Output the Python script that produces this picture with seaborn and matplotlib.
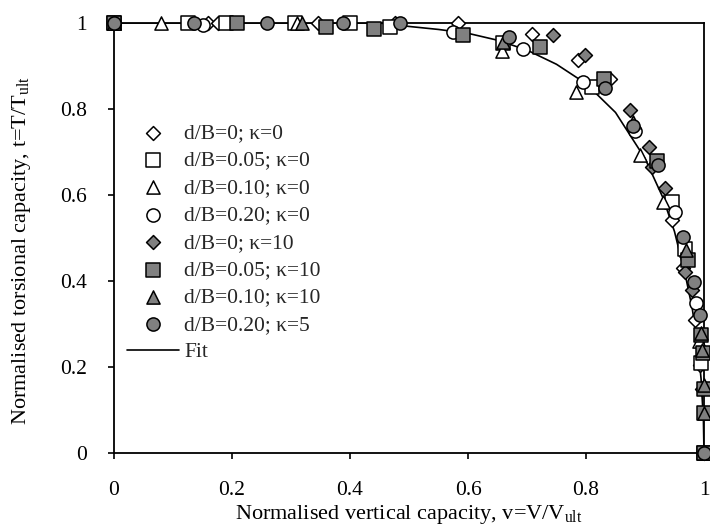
import numpy as np
import pandas as pd
import matplotlib
matplotlib.use("Agg")
import matplotlib.pyplot as plt
import seaborn as sns

# ---- data -------------------------------------------------------------
labels = [
    "d/B=0; κ=0", "d/B=0.05; κ=0", "d/B=0.10; κ=0", "d/B=0.20; κ=0",
    "d/B=0; κ=10", "d/B=0.05; κ=10", "d/B=0.10; κ=10", "d/B=0.20; κ=5",
]

v_db0_k0 = [0.0, 0.16, 0.177, 0.346, 0.476, 0.583, 0.709, 0.786, 0.84, 0.946, 0.965, 0.985, 0.993, 0.997, 1.0]
t_db0_k0 = [1.0, 1.0, 1.0, 1.0, 1.0, 1.0, 0.975, 0.914, 0.87, 0.542, 0.43, 0.31, 0.205, 0.15, 0.0]

v_db005_k0 = [0.0, 0.125, 0.19, 0.307, 0.40, 0.467, 0.66, 0.81, 0.946, 0.968, 0.995, 1.0]
t_db005_k0 = [1.0, 1.0, 1.0, 1.0, 1.0, 0.99, 0.953, 0.851, 0.584, 0.474, 0.21, 0.0]

v_db010_k0 = [0.0, 0.08, 0.31, 0.657, 0.783, 0.892, 0.93, 0.992, 1.0]
t_db010_k0 = [1.0, 1.0, 1.0, 0.935, 0.84, 0.693, 0.584, 0.26, 0.0]

v_db020_k0 = [0.0, 0.15, 0.575, 0.693, 0.795, 0.883, 0.951, 0.987, 1.0]
t_db020_k0 = [1.0, 0.995, 0.98, 0.94, 0.863, 0.75, 0.56, 0.35, 0.0]

v_db0_k10 = [0.0, 0.744, 0.798, 0.875, 0.907, 0.912, 0.934, 0.968, 0.98]
t_db0_k10 = [1.0, 0.972, 0.925, 0.798, 0.712, 0.665, 0.616, 0.421, 0.38]

v_db005_k10 = [0.0, 0.208, 0.36, 0.44, 0.592, 0.722, 0.83, 0.92, 0.973, 0.995, 0.998, 1.0, 1.0, 1.0]
t_db005_k10 = [1.0, 1.0, 0.99, 0.985, 0.972, 0.944, 0.87, 0.68, 0.449, 0.274, 0.232, 0.15, 0.093, 0.0]

v_db010_k10 = [0.0, 0.318, 0.66, 0.88, 0.97, 0.995, 0.997, 1.0, 1.0]
t_db010_k10 = [1.0, 1.0, 0.955, 0.77, 0.472, 0.28, 0.24, 0.158, 0.093]

v_db020_k5 = [0.0, 0.135, 0.26, 0.388, 0.485, 0.67, 0.832, 0.88, 0.922, 0.964, 0.983, 0.993, 1.0]
t_db020_k5 = [1.0, 1.0, 1.0, 1.0, 1.0, 0.967, 0.849, 0.76, 0.67, 0.502, 0.398, 0.32, 0.0]

v_fit = [0.0, 0.45, 0.5, 0.55, 0.6, 0.65, 0.7, 0.75, 0.8, 0.85, 0.9, 0.93, 0.95, 0.97, 0.98, 0.99, 0.995, 0.999, 1.0]
t_fit = [1.0, 1.0, 0.992, 0.985, 0.976, 0.96, 0.937, 0.904, 0.859, 0.792, 0.685, 0.595, 0.515, 0.403, 0.337, 0.243, 0.173, 0.077, 0.0]

ticks = [0, 0.2, 0.4, 0.6, 0.8, 1.0]
tick_labels = ["0", "0.2", "0.4", "0.6", "0.8", "1"]

series_v = [v_db0_k0, v_db005_k0, v_db010_k0, v_db020_k0,
            v_db0_k10, v_db005_k10, v_db010_k10, v_db020_k5]
series_t = [t_db0_k0, t_db005_k0, t_db010_k0, t_db020_k0,
            t_db0_k10, t_db005_k10, t_db010_k10, t_db020_k5]

# ---- styling ----------------------------------------------------------
markers = ["D", "s", "^", "o", "D", "s", "^", "o"]
sizes = {"D": 50, "s": 88, "^": 90, "o": 90}
faces = ["white"] * 4 + ["#808080"] * 4
FS = 15.5

sns.set_theme(style="white")
plt.rcParams["font.family"] = ["Liberation Serif", "DejaVu Serif"]
plt.rcParams["mathtext.fontset"] = "custom"
plt.rcParams["mathtext.rm"] = "Liberation Serif"
plt.rcParams["mathtext.it"] = "Liberation Serif:italic"

fig = plt.figure(figsize=(7.1, 5.27), dpi=100)
ax = fig.add_axes([114 / 710, 1 - 453 / 527, 590 / 710, 430 / 527])

for lab, vv, tt, m, fc in zip(labels, series_v, series_t, markers, faces):
    df = pd.DataFrame({"v": vv, "t": tt})
    sns.scatterplot(data=df, x="v", y="t", ax=ax, marker=m, s=sizes[m],
                    color=fc, edgecolor="black", linewidth=1.1,
                    label=lab, clip_on=False, zorder=3)

fit_df = pd.DataFrame({"v": v_fit, "t": t_fit})
sns.lineplot(data=fit_df, x="v", y="t", ax=ax, sort=False, estimator=None,
             color="black", linewidth=1.2, label="Fit", zorder=2)

ax.set_xlim(0, 1)
ax.set_ylim(0, 1)
ax.set_xticks(ticks)
ax.set_xticklabels(tick_labels)
ax.set_yticks(ticks)
ax.set_yticklabels(tick_labels)

for sp in ax.spines.values():
    sp.set_visible(True)
    sp.set_color("black")
    sp.set_linewidth(1.3)

ax.tick_params(axis="both", direction="out", length=4.5, width=1.2,
               color="black", labelsize=FS, labelcolor="black")
ax.tick_params(axis="x", pad=16, bottom=True)
ax.tick_params(axis="y", pad=15, left=True)

ax.set_xlabel("Normalised vertical capacity, v=V/V$_\\mathrm{ult}$", fontsize=16, color="black")
ax.set_ylabel("Normalised torsional capacity, t=T/T$_\\mathrm{ult}$", fontsize=16, color="black")
ax.xaxis.set_label_coords(0.5, (453 - 503) / 430)
ax.yaxis.set_label_coords((33 - 114) / 590, 0.47)

handles, labs = ax.get_legend_handles_labels()
ax.legend(handles, labs, loc="upper left", bbox_to_anchor=(0.022, 0.767),
          frameon=False, fontsize=FS, handlelength=2.42, handletextpad=0.23,
          labelspacing=0.34, borderpad=0, borderaxespad=0, scatterpoints=1)

fig.savefig("out.png", dpi=100)
